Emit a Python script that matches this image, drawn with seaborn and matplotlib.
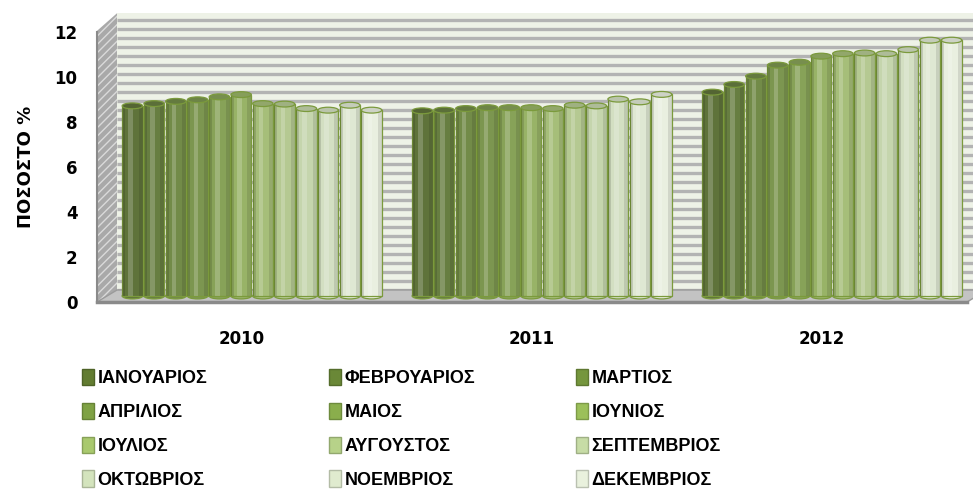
import numpy as np
import pandas as pd
import matplotlib
matplotlib.use("Agg")
import matplotlib.pyplot as plt
import matplotlib.transforms as mtransforms
from matplotlib.patches import Polygon, Ellipse, Rectangle, Patch
import matplotlib.colors as mcolors
import seaborn as sns

# --- data ---
years = ["2010", "2011", "2012"]
months = ["ΙΑΝΟΥΑΡΙΟΣ", "ΦΕΒΡΟΥΑΡΙΟΣ", "ΜΑΡΤΙΟΣ", "ΑΠΡΙΛΙΟΣ", "ΜΑΙΟΣ", "ΙΟΥΝΙΟΣ",
          "ΙΟΥΛΙΟΣ", "ΑΥΓΟΥΣΤΟΣ", "ΣΕΠΤΕΜΒΡΙΟΣ", "ΟΚΤΩΒΡΙΟΣ", "ΝΟΕΜΒΡΙΟΣ", "ΔΕΚΕΜΒΡΙΟΣ"]
rate_2010 = [8.45, 8.55, 8.65, 8.72, 8.85, 8.95, 8.55, 8.53, 8.33, 8.26, 8.48, 8.26]
rate_2011 = [8.23, 8.26, 8.33, 8.37, 8.37, 8.37, 8.33, 8.48, 8.45, 8.75, 8.63, 8.96]
rate_2012 = [9.06, 9.4, 9.77, 10.26, 10.39, 10.66, 10.77, 10.8, 10.77, 10.95, 11.37, 11.37]
month_colors = ["#627c31", "#6a8837", "#75963d", "#7fa244", "#8aae4c", "#9cc05a",
                "#a9c96e", "#b7d289", "#c7dca6", "#d4e4bd", "#e0ebcf", "#e9f1dd"]

df = pd.DataFrame({
    "year": np.repeat(years, len(months)),
    "month": months * len(years),
    "rate": rate_2010 + rate_2011 + rate_2012,
})

sns.set_style("white")
plt.rcParams["font.family"] = ["DejaVu Sans"]
plt.rcParams["text.color"] = "black"
plt.rcParams["axes.labelcolor"] = "black"
plt.rcParams["xtick.labelcolor"] = "black"
plt.rcParams["ytick.labelcolor"] = "black"

W, H = 973, 491
fig = plt.figure(figsize=(W / 100, H / 100), dpi=100)
ax = fig.add_axes([97 / W, 1 - 302 / H, 870 / W, 270 / H])
ax.patch.set_visible(False)

sns.barplot(data=df, x="year", y="rate", hue="month", palette=month_colors,
            width=0.9, gap=0.06, edgecolor="#7b9a3c", linewidth=0.9,
            legend=False, ax=ax, zorder=3)
bars = list(ax.patches)

ax.set_xlim(-0.5, 2.5)
ax.set_ylim(0, 12)

# fake 3D depth offsets (pixels)
def shift(dx, dy):
    return ax.transData + mtransforms.ScaledTranslation(dx / 100, dy / 100, fig.dpi_scale_trans)

wall_tr = shift(20, 12)
bar_tr = shift(10, 6)
wall_top = 12.3

# back wall with dense gridlines
ax.add_patch(Polygon([(-0.5, 0), (2.5, 0), (2.5, wall_top), (-0.5, wall_top)],
                     closed=True, transform=wall_tr, facecolor="#eef2e7",
                     edgecolor="none", clip_on=False, zorder=0.1))
for v in np.arange(0, wall_top, 0.4):
    ax.plot([-0.5, 2.5], [v, v], transform=wall_tr, color="#b3b3b3", lw=2.4,
            clip_on=False, zorder=0.2, solid_capstyle="butt")

# side wall and floor in display coords
def pt(x, y, dx=0, dy=0):
    px, py = ax.transData.transform((x, y))
    return (px + dx, py + dy)

ident = mtransforms.IdentityTransform()
side = Polygon([pt(-0.5, 0), pt(-0.5, 0, 20, 12), pt(-0.5, wall_top, 20, 12), pt(-0.5, wall_top - 0.25)],
               closed=True, transform=ident, facecolor="#a9a9a9", edgecolor="#dadada",
               hatch="////", lw=0, clip_on=False, zorder=0.3)
ax.add_patch(side)
floor = Polygon([pt(-0.5, 0), pt(2.5, 0), pt(2.5, 0, 20, 12), pt(-0.5, 0, 20, 12)],
                closed=True, transform=ident, facecolor="#c3c3c3", edgecolor="#9a9a9a",
                lw=1, clip_on=False, zorder=0.4)
ax.add_patch(floor)

# cylinders: shift bars back, add shading strips and caps
for p in bars:
    p.set_transform(bar_tr)
    x, w, h = p.get_x(), p.get_width(), p.get_height()
    face = p.get_facecolor()
    cap = tuple(np.array(mcolors.to_rgb(face)) * 0.88)
    ax.add_patch(Ellipse((x + w / 2, 0), w, 0.26, transform=bar_tr, facecolor=face,
                         edgecolor="#7b9a3c", lw=0.9, zorder=2.9, clip_on=False))
    ax.add_patch(Rectangle((x, 0), w * 0.14, h, transform=bar_tr, facecolor="black",
                           alpha=0.13, lw=0, zorder=3.1, clip_on=False))
    ax.add_patch(Rectangle((x + w * 0.3, 0), w * 0.22, h, transform=bar_tr, facecolor="white",
                           alpha=0.2, lw=0, zorder=3.1, clip_on=False))
    ax.add_patch(Rectangle((x + w * 0.8, 0), w * 0.2, h, transform=bar_tr, facecolor="black",
                           alpha=0.1, lw=0, zorder=3.1, clip_on=False))
    ax.add_patch(Ellipse((x + w / 2, h), w, 0.26, transform=bar_tr, facecolor=cap,
                         edgecolor="#7b9a3c", lw=0.9, zorder=3.2, clip_on=False))

# axes styling
for s in ["top", "right"]:
    ax.spines[s].set_visible(False)
ax.spines["left"].set_color("#8a8a8a")
ax.spines["left"].set_linewidth(1.5)
ax.spines["bottom"].set_color("#8a8a8a")
ax.spines["bottom"].set_linewidth(2.5)
ax.spines["left"].set_zorder(5)
ax.spines["bottom"].set_zorder(5)

ax.set_yticks(range(0, 13, 2))
ax.tick_params(axis="y", length=8, width=1.5, color="#8a8a8a", labelsize=12, pad=6)
ax.set_xticks(range(len(years)), years)
ax.set_xticks([-0.5, 0.5, 1.5, 2.5], minor=True)
ax.tick_params(axis="x", which="major", length=0, labelsize=12, pad=20)
ax.tick_params(axis="x", which="minor", length=10, width=2, color="#8a8a8a")
for lab in ax.get_xticklabels() + ax.get_yticklabels():
    lab.set_fontweight("bold")
ax.set_xlabel("")
ax.set_ylabel("ΠΟΣΟΣΤΟ %", fontsize=13, fontweight="bold", labelpad=14)

# legend: three columns laid out row-wise
handles = [Patch(facecolor=c, edgecolor=mcolors.to_hex(np.array(mcolors.to_rgb(c)) * 0.8))
           for c in month_colors]
col_x = [82 / W, 329 / W, 576 / W]
for c in range(3):
    fig.legend(handles[c::3], months[c::3], loc="upper left",
               bbox_to_anchor=(col_x[c], 1 - 369 / H), frameon=False,
               prop={"family": ["Liberation Sans", "DejaVu Sans"], "weight": "bold", "size": 13},
               handlelength=0.65, handleheight=1.0, handletextpad=0.2,
               labelspacing=0.86, borderpad=0, borderaxespad=0)

fig.savefig("out.png", dpi=100)
